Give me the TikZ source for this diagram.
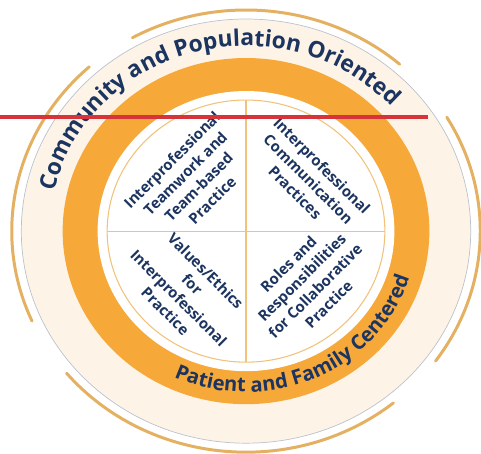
\documentclass[tikz,border=0pt]{standalone}
\usepackage{fontspec}
\setmainfont{Open Sans}
\usepackage{tikz}
\usetikzlibrary{decorations.text}
\definecolor{ringorange}{RGB}{246,168,56}
\definecolor{cream}{RGB}{253,244,231}
\definecolor{arcgold}{RGB}{228,177,98}
\definecolor{thinline}{RGB}{242,194,122}
\definecolor{ringgray}{RGB}{188,194,204}
\definecolor{navy}{RGB}{28,52,96}
\definecolor{markred}{RGB}{214,52,58}

\begin{document}
\begin{tikzpicture}[x=0.0212cm, y=0.02cm,
      outerarc/.style={arcgold, line width=1.7pt, line cap=round},
      quadtext/.style={text=navy, align=center, inner sep=0pt,
        font=\bfseries\fontsize{8.5}{10.8}\selectfont}]

      \useasboundingbox (-232.1,-222) rectangle (221.7,231);

      \fill[cream, draw=ringgray, line width=0.4pt] (0,0) circle[radius=212];
      \draw[outerarc] (49:221) arc[start angle=49, end angle=119, radius=221];
      \draw[outerarc] (132:221) arc[start angle=132, end angle=204, radius=221];
      \draw[outerarc] (220:221) arc[start angle=220, end angle=309, radius=221];
      \draw[outerarc] (324:221) arc[start angle=324, end angle=391, radius=221];

      \fill[ringorange] (0,0) circle[radius=173];
      \fill[white] (0,0) circle[radius=140];
      \draw[thinline, line width=0.6pt] (0,0) circle[radius=131];
      \draw[thinline, line width=0.6pt] (-131,0) -- (131,0);
      \draw[thinline, line width=0.6pt] (0,-131) -- (0,131);

      \path[decorate, decoration={text along path, text align=center, text color=navy,
          text format delimiters={|}{|},
          text={|\bfseries\fontsize{13}{15}\selectfont|Community and Population Oriented}}]
        (185:185) arc[start angle=185, end angle=25, radius=185];
      \path[decorate, decoration={text along path, text align=center, text color=navy,
          text format delimiters={|}{|},
          text={|\bfseries\fontsize{11.5}{13}\selectfont|Patient and Family Centered}}]
        (-135:161) arc[start angle=-135, end angle=4, radius=161];

      \node[quadtext, rotate=45] (teamwork) at (-51,51)
        {Interprofessional\\Teamwork and\\Team-based\\Practice};
      \node[quadtext, rotate=-45] (communication) at (59,52)
        {Interprofessional\\Communication\\Practices};
      \node[quadtext, rotate=-45] (values) at (-57,-60)
        {Values/Ethics\\for\\Interprofessional\\Practice};
      \node[quadtext, rotate=45] (roles) at (59,-53)
        {Roles and\\Responsibilities\\for Collaborative\\Practice};

      \draw[markred, line width=2pt] (-232.1,114) -- (171.7,114);
    \end{tikzpicture}
\end{document}
